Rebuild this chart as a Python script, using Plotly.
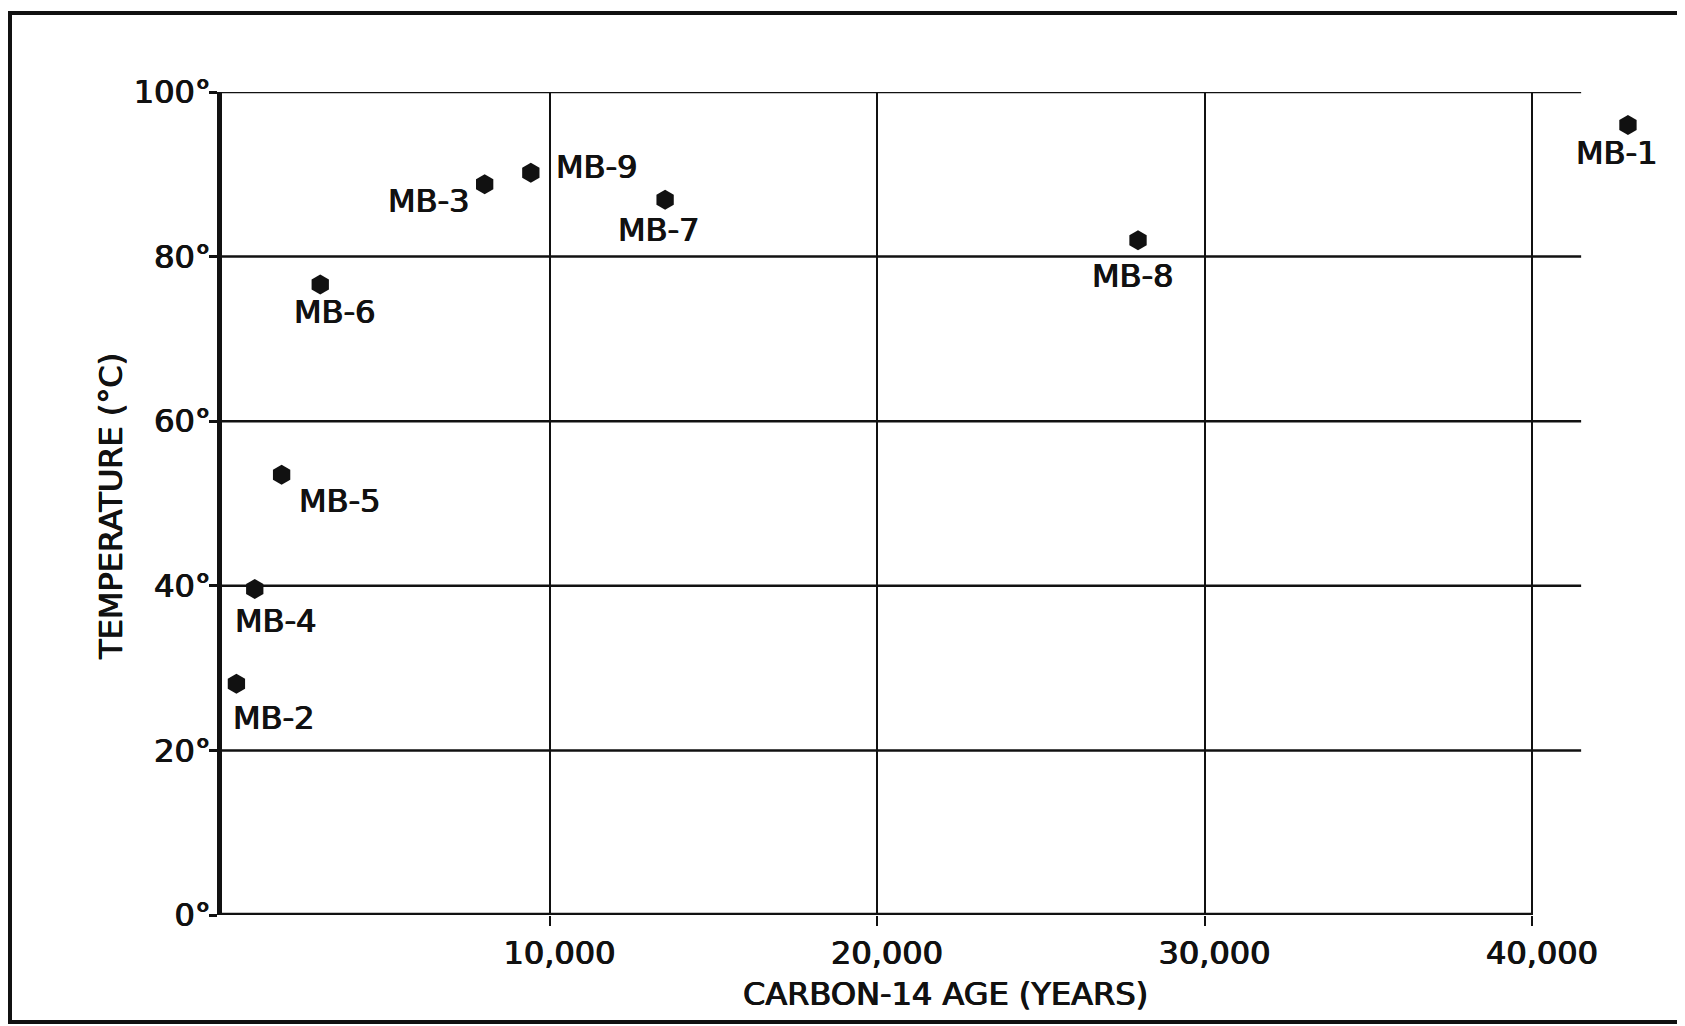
import plotly.graph_objects as go

# ---- data ----
samples = ["MB-1", "MB-9", "MB-3", "MB-7", "MB-8", "MB-6", "MB-5", "MB-4", "MB-2"]
age_years = [42930, 9430, 8020, 13530, 27970, 3000, 1820, 1000, 440]
temperature_c = [96.0, 90.2, 88.8, 86.9, 82.0, 76.6, 53.5, 39.6, 28.1]

x_tick_vals = [10000, 20000, 30000, 40000]
x_tick_text = ["10,000", "20,000", "30,000", "40,000"]
y_tick_vals = [0, 20, 40, 60, 80, 100]
y_tick_text = ["0°", "20°", "40°", "60°", "80°", "100°"]

x_title = "CARBON-14 AGE (YEARS)"
y_title = "TEMPERATURE (°C)"

# ---- layout / style ----
W, H = 1685, 1026
OFF = 8  # page body margin: figure is drawn 8px right/down
# target screen positions of the plot area
SCR_L, SCR_R, SCR_T, SCR_B = 222, 1663, 92, 915
ML, MT = SCR_L - OFF, SCR_T - OFF
MR = W - (SCR_R - OFF)
MB = H - (SCR_B - OFF)
PW, PH = W - ML - MR, H - MT - MB
INK = "#111111"
TXT = dict(family="DejaVu Sans", size=32, color=INK,
           shadow="0.6px 0 0 #111111, -0.6px 0 0 #111111")

def px_to_paper_x(px):  # screen px -> paper
    return (px - SCR_L) / PW

def px_to_paper_y(py):
    return (SCR_B - py) / PH

# label placement: (xshift px, yshift px, xanchor)
label_style = {
    "MB-1": (-11, -28, "center"),
    "MB-9": (23, 6, "left"),
    "MB-3": (-14, -17, "right"),
    "MB-7": (-7, -30, "center"),
    "MB-8": (-6, -36, "center"),
    "MB-6": (14, -27, "center"),
    "MB-5": (15, -26, "left"),
    "MB-4": (-22, -32, "left"),
    "MB-2": (-5, -34, "left"),
}

fig = go.Figure()
fig.add_trace(go.Scatter(
    x=age_years, y=temperature_c, mode="markers",
    marker=dict(symbol="hexagon", size=20, color=INK, line=dict(width=0)),
    cliponaxis=False, showlegend=False, hoverinfo="skip",
))

annotations = []
for name, xv, yv in zip(samples, age_years, temperature_c):
    dx, dy, anc = label_style[name]
    annotations.append(dict(
        x=xv, y=yv, xref="x", yref="y", text=name, showarrow=False,
        xanchor=anc, yanchor="middle", xshift=dx, yshift=dy, font=TXT,
    ))

# axis titles
annotations.append(dict(
    x=px_to_paper_x(945), y=px_to_paper_y(994), xref="paper", yref="paper",
    text=x_title, showarrow=False, xanchor="center", yanchor="middle", font=TXT,
))
annotations.append(dict(
    x=px_to_paper_x(111), y=px_to_paper_y(507), xref="paper", yref="paper",
    text=y_title, showarrow=False, xanchor="center", yanchor="middle",
    textangle=-90, font=TXT,
))

shapes = []
# horizontal grid lines (stop short of the right margin, as in the drawing)
grid_right = 41500
for yv in y_tick_vals[1:]:
    shapes.append(dict(type="line", xref="x", yref="y", x0=0, x1=grid_right,
                       y0=yv, y1=yv, line=dict(color=INK, width=2.5), layer="below"))
# bottom axis line, only to the last tick
shapes.append(dict(type="line", xref="x", yref="y", x0=0, x1=x_tick_vals[-1],
                   y0=0, y1=0, line=dict(color=INK, width=4.5), layer="above"))
# outer frame of the figure
shapes.append(dict(type="rect", xref="paper", yref="paper",
                   x0=px_to_paper_x(10), x1=px_to_paper_x(1681),
                   y0=px_to_paper_y(1022), y1=px_to_paper_y(13),
                   line=dict(color=INK, width=4), fillcolor="rgba(0,0,0,0)"))

fig.update_layout(
    width=W, height=H,
    margin=dict(l=ML, r=MR, t=MT, b=MB, pad=0),
    paper_bgcolor="white", plot_bgcolor="white",
    font=dict(family="DejaVu Sans", color=INK),
    annotations=annotations, shapes=shapes,
    xaxis=dict(
        range=[0, 44000], tickmode="array", tickvals=x_tick_vals, ticktext=x_tick_text,
        ticks="outside", ticklen=10, tickwidth=2, tickcolor=INK,
        showgrid=True, gridcolor=INK, gridwidth=2, zeroline=False, showline=False,
        tickfont=TXT, ticklabelshift=10, ticklabelstandoff=0,
    ),
    yaxis=dict(
        range=[0, 100], tickmode="array", tickvals=y_tick_vals, ticktext=y_tick_text,
        ticks="outside", ticklen=8, tickwidth=2.5, tickcolor=INK,
        showgrid=False, zeroline=False, showline=True, linecolor=INK, linewidth=4.5,
        tickfont=TXT, ticklabelstandoff=-8,
    ),
)

fig.write_html("out.html")
